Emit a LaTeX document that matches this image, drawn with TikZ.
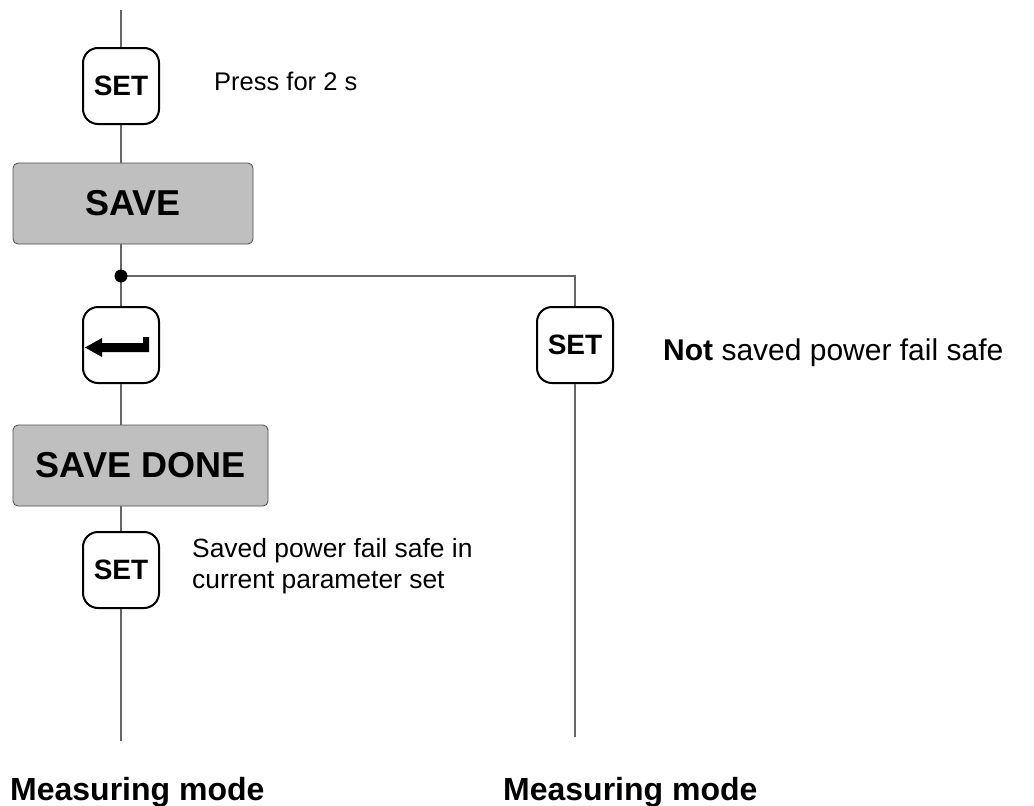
\documentclass[tikz,border=0pt]{standalone}
\usepackage{fontspec}
\setmainfont{Liberation Sans}
\begin{document}
\begin{tikzpicture}[x=1pt,y=-1pt,
  keybox/.style={draw=black,line width=2pt,rounded corners=15pt,fill=white,
    minimum width=76pt,minimum height=76pt,inner sep=0pt,
    font=\fontsize{28}{30}\selectfont\bfseries},
  statebox/.style={draw=black!70,line width=0.8pt,rounded corners=5pt,fill=black!25,
    minimum height=81pt,inner sep=0pt,font=\fontsize{36}{40}\selectfont\bfseries},
  conn/.style={draw=black!60,line width=1.2pt},
  note/.style={inner sep=0pt,anchor=base west},
]
\useasboundingbox (0,0) rectangle (1034,806);
\coordinate (top) at (121,10);
\node[keybox] (topkey) at (121,86) {SET};
\node[statebox,minimum width=240pt] (save) at (133,203.5) {SAVE};
\coordinate (dot) at (121,276);
\node[keybox] (retkey) at (121,345) {};
\node[statebox,minimum width=255pt] (savedone) at (140.5,465.5) {SAVE DONE};
\node[keybox] (botkey) at (121,570) {SET};
\node[keybox] (rightkey) at (575,345) {SET};
\coordinate (endl) at (121,741);
\coordinate (endr) at (575,737);

\draw[conn] (top) -- (topkey.north);
\draw[conn] (topkey.south) -- (topkey.south |- save.north);
\draw[conn] (topkey.south |- save.south) -- (dot);
\draw[conn] (dot) -- (retkey.north);
\draw[conn] (retkey.south) -- (retkey.south |- savedone.north);
\draw[conn] (retkey.south |- savedone.south) -- (botkey.north);
\draw[conn] (botkey.south) -- (endl);
\draw[conn] (dot) -| (rightkey.north);
\draw[conn] (rightkey.south) -- (endr);
\fill[black] (dot) circle (6.5pt);

% return arrow symbol
\fill[black] (85,347.5) -- (102,338) -- (102,343) -- (143,343) -- (143,337)
  -- (149,337) -- (149,352) -- (102,352) -- (102,357) -- cycle;

\node[note,font=\fontsize{25.5}{30}\selectfont] (t1) at (214,90) {Press for 2 s};
\node[note,font=\fontsize{30}{34}\selectfont] (t2) at (663,360) {\textbf{Not} saved power fail safe};
\node[note,font=\fontsize{26.4}{31}\selectfont,align=left] (t3) at (192,588)
  {Saved power fail safe in\\current parameter set};
\node[note,font=\fontsize{32}{36}\selectfont\bfseries] (m1) at (10,800) {Measuring mode};
\node[note,font=\fontsize{32}{36}\selectfont\bfseries] (m2) at (503,800) {Measuring mode};
\end{tikzpicture}
\end{document}
